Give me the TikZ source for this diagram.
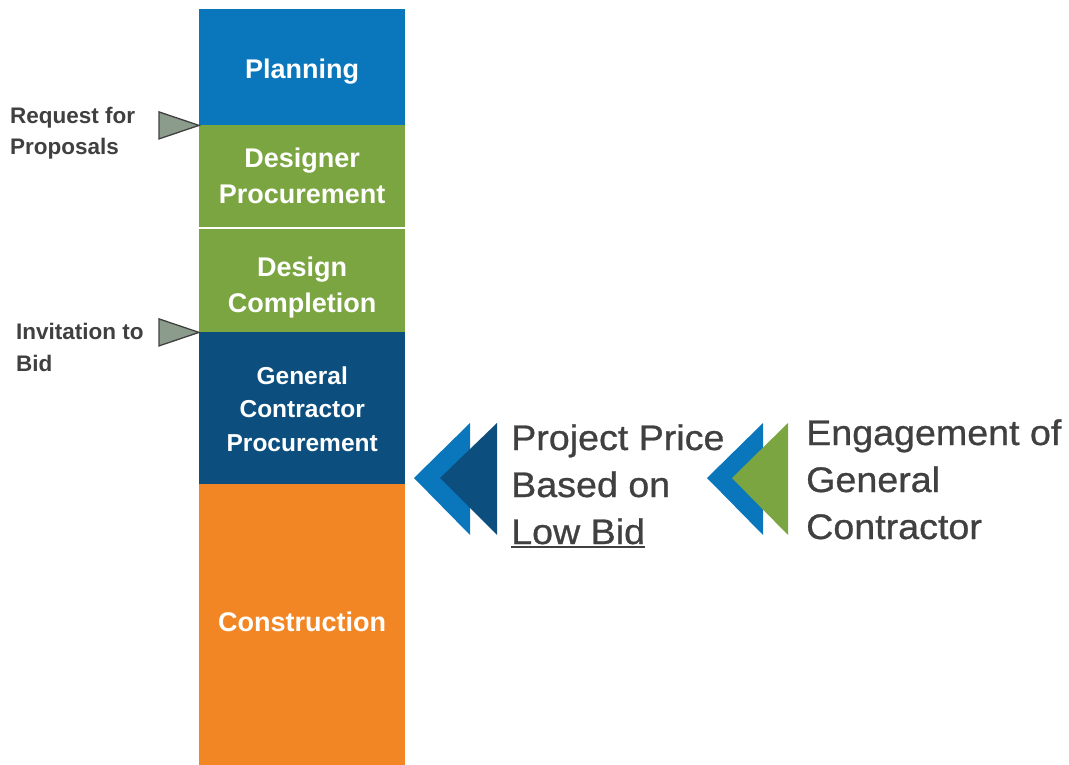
\documentclass[tikz,border=0pt]{standalone}
\usepackage{fontspec}
\setmainfont{Liberation Sans}
\newfontfamily\rtfont[FakeStretch=1.06,FakeBold=0.8]{Liberation Sans}
\definecolor{cplan}{HTML}{0A77BD}
\definecolor{cgreen}{HTML}{7AA541}
\definecolor{cdark}{HTML}{0C4F7F}
\definecolor{corange}{HTML}{F38624}
\definecolor{ctext}{HTML}{404040}
\definecolor{ctri}{HTML}{8B9C8C}
\newcommand\myul[1]{\setbox0\hbox{#1}\rlap{\rule[-4pt]{\wd0}{2.4pt}}\box0}
\tikzset{
  phase/.style={rectangle, anchor=north west, minimum width=206pt, inner sep=0pt},
  phasetext/.style={inner sep=0pt, text=white, align=center,
    font=\bfseries\fontsize{27}{36}\selectfont},
  sidelabel/.style={anchor=base west, inner sep=0pt, align=left, text=ctext,
    font=\bfseries\fontsize{22.5}{32}\selectfont},
  bigtext/.style={anchor=base west, inner sep=0pt, align=left, text=ctext,
    font=\rtfont\fontsize{35.5}{47}\selectfont},
  marker/.style={fill=ctri, draw=ctext, line width=1.3pt, line join=miter},
}
\begin{document}
\begin{tikzpicture}[x=1pt,y=-1pt]
\path[use as bounding box] (0,0) rectangle (1069,765);
% column
\node[phase, fill=cplan, minimum height=116pt,
  label={[phasetext, yshift=-4pt]center:Planning}] (plan) at (199,9) {};
\node[phase, fill=cgreen, minimum height=102pt,
  label={[phasetext]center:Designer\\Procurement}] (dproc) at (199,125) {};
\node[phase, fill=cgreen, minimum height=103pt,
  label={[phasetext, yshift=-7pt]center:Design\\Completion}] (dcomp) at (199,229) {};
\node[phase, fill=cdark, minimum height=152pt,
  label={[phasetext, font=\bfseries\fontsize{24.5}{33.5}\selectfont, yshift=-1pt]center:General\\Contractor\\Procurement}] (gc) at (199,332) {};
\node[phase, fill=corange, minimum height=281pt,
  label={[phasetext, yshift=3pt]center:Construction}] (cons) at (199,484) {};
% markers
\coordinate (rfp) at (plan.south west);
\coordinate (itb) at (dcomp.south west);
\draw[marker] (rfp) -- ([shift={(-40,-13.5)}]rfp) -- ([shift={(-40,13.5)}]rfp) -- cycle;
\draw[marker] (itb) -- ([shift={(-40,-13.5)}]itb) -- ([shift={(-40,13.5)}]itb) -- cycle;
\node[sidelabel] (rfpl) at (10,155) {Request for\\Proposals};
\node[sidelabel] (itbl) at (16,371) {Invitation to\\Bid};
% chevrons
\fill[cplan] (414,478) -- (470,423) -- (470,535) -- cycle;
\fill[cdark] (440,478) -- (497,423) -- (497,535) -- cycle;
\fill[cplan] (707,478) -- (763,423) -- (763,535) -- cycle;
\fill[cgreen] (732,478) -- (788,423) -- (788,535) -- cycle;
% texts
\node[bigtext] (price) at (511,544) {Project Price\\Based on\\\myul{Low Bid}};
\node[bigtext] (eng) at (806,539) {Engagement of\\General\\Contractor};
\end{tikzpicture}
\end{document}
